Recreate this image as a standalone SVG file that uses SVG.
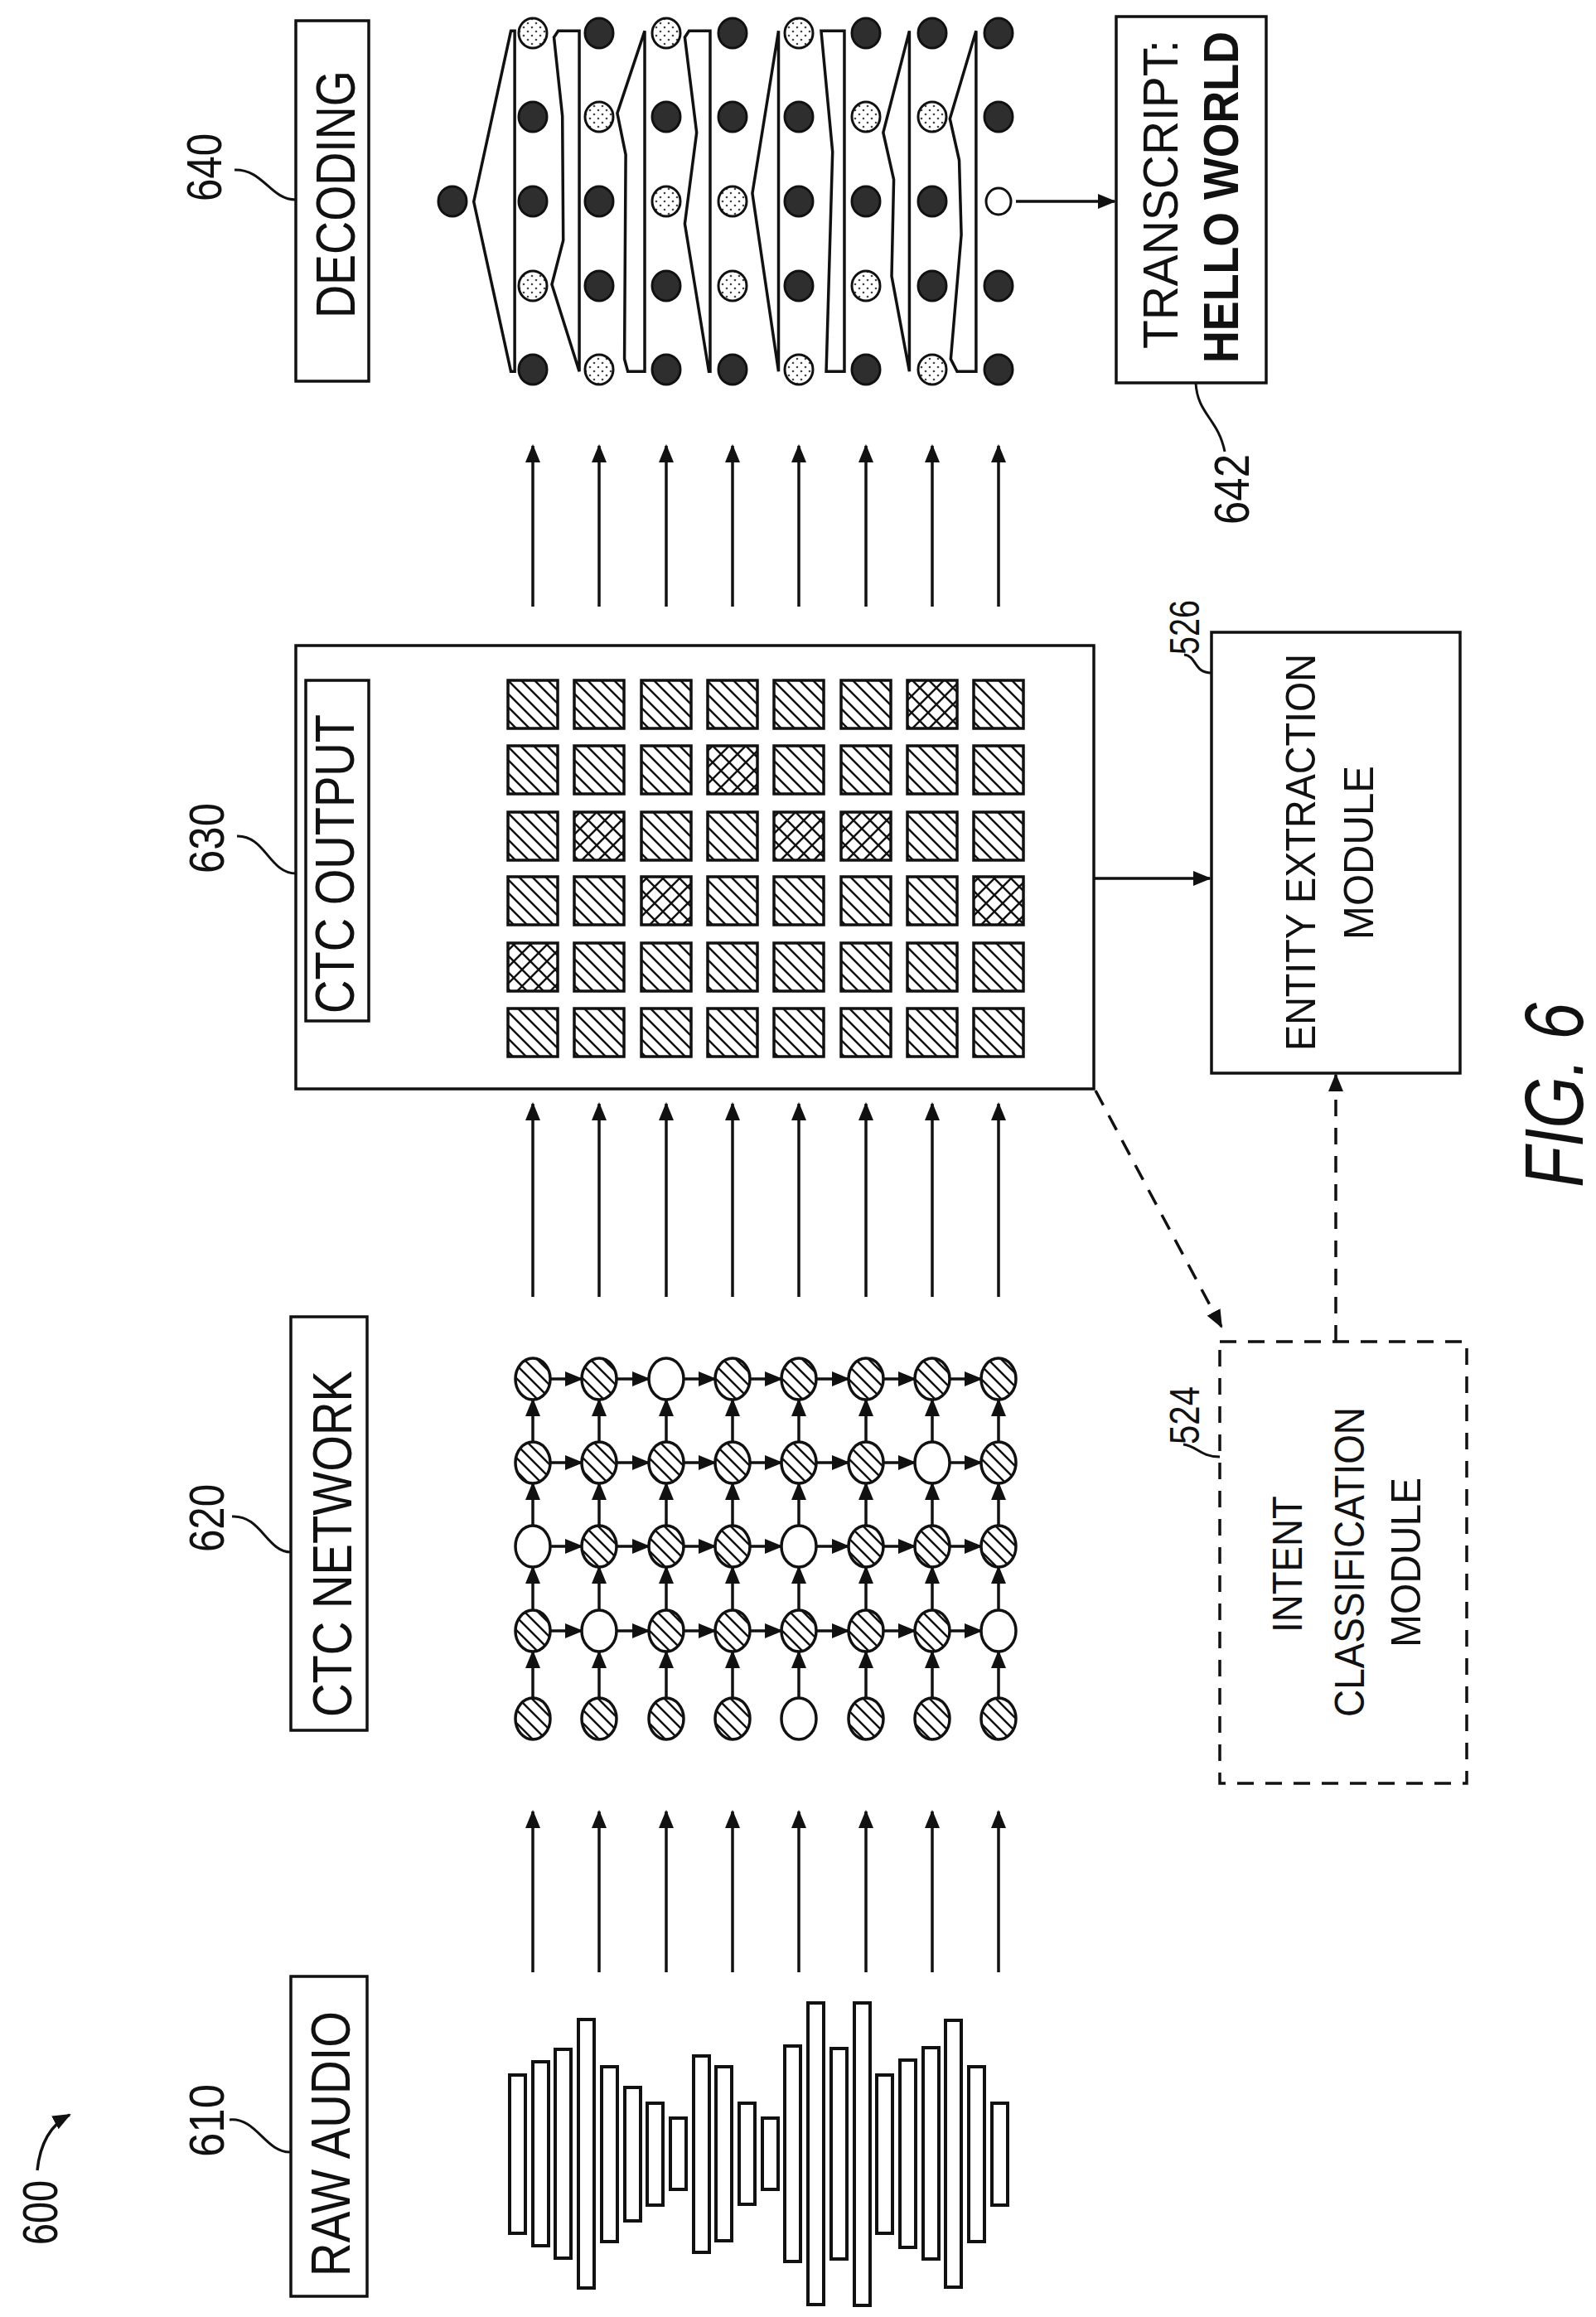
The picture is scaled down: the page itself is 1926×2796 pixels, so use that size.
<svg xmlns="http://www.w3.org/2000/svg" width="1926" height="2796" viewBox="0 0 1926 2796">
<style>
.ln{fill:none;stroke:#111;stroke-width:3.5}
.bx{fill:#fff;stroke:#111;stroke-width:3.5}
.bar{fill:#fff;stroke:#111;stroke-width:4}
.lbl{font-family:"Liberation Sans",Arial,sans-serif;font-size:66px;fill:#111}
.num{font-family:"Liberation Sans",Arial,sans-serif;font-size:60px;fill:#111}
.mod{font-family:"Liberation Sans",Arial,sans-serif;font-size:50px;fill:#111}
.dk{fill:#2e2e2e;stroke:#111;stroke-width:3}
.lt{fill:url(#stip);stroke:#111;stroke-width:3}
.wh{fill:#fff;stroke:#111;stroke-width:3}
.hc{fill:url(#hatch);stroke:#111;stroke-width:3.5}
.wc{fill:#fff;stroke:#111;stroke-width:3.5}
.sq{fill:url(#hatch2);stroke:#111;stroke-width:3.5}
.sx{fill:url(#cross);stroke:#111;stroke-width:3.5}
.ar{fill:none;stroke:#111;stroke-width:3.5;marker-end:url(#ah)}
.ds{fill:none;stroke:#111;stroke-width:3.5;stroke-dasharray:20 14}
</style>
<defs>
<marker id="ah" markerUnits="userSpaceOnUse" markerWidth="22" markerHeight="18" refX="20" refY="9" orient="auto"><path d="M0,0 L22,9 L0,18 Z" fill="#111"/></marker>
<pattern id="hatch" patternUnits="userSpaceOnUse" width="16" height="16"><rect width="16" height="16" fill="#fff"/><path d="M-4,-4 L20,20 M-12,4 L4,20 M12,-4 L28,12" stroke="#111" stroke-width="2.5"/></pattern>
<pattern id="hatch2" patternUnits="userSpaceOnUse" width="16" height="16"><rect width="16" height="16" fill="#fff"/><path d="M-4,-4 L20,20 M-12,4 L4,20 M12,-4 L28,12" stroke="#111" stroke-width="2.5"/></pattern>
<pattern id="cross" patternUnits="userSpaceOnUse" width="20" height="20"><rect width="20" height="20" fill="#fff"/><path d="M0,0 L20,20 M20,0 L0,20" stroke="#111" stroke-width="2.5"/></pattern>
<pattern id="stip" patternUnits="userSpaceOnUse" width="10" height="10"><rect width="10" height="10" fill="#fff"/><circle cx="2" cy="3" r="1.3" fill="#444"/><circle cx="7" cy="8" r="1.3" fill="#444"/></pattern>
</defs>
<rect width="1926" height="2796" fill="#fff"/>

<g id="fig600">
<text class="num" transform="translate(69,2709) rotate(-90)" textLength="78" lengthAdjust="spacingAndGlyphs">600</text>
<path class="ln" d="M45,2619 Q50,2570 84,2552" marker-end="url(#ah)"/>
</g>

<g id="raw-audio">
<rect class="bx" x="351" y="2385" width="92" height="386"/>
<text class="lbl" transform="translate(422,2747) rotate(-90)" textLength="320" lengthAdjust="spacingAndGlyphs">RAW AUDIO</text>
<text class="num" transform="translate(270,2603) rotate(-90)" textLength="88" lengthAdjust="spacingAndGlyphs">610</text>
<path class="ln" d="M277,2558 C310,2555 320,2598 351,2597" style="stroke-width:3"/>
<g id="waveform">
<rect class="bar" x="615" y="2504" width="19" height="191"/>
<rect class="bar" x="643" y="2488" width="19" height="222"/>
<rect class="bar" x="670" y="2473" width="19" height="252"/>
<rect class="bar" x="698" y="2437" width="19" height="324"/>
<rect class="bar" x="726" y="2494" width="19" height="211"/>
<rect class="bar" x="754" y="2519" width="19" height="161"/>
<rect class="bar" x="781" y="2538" width="19" height="123"/>
<rect class="bar" x="809" y="2556" width="19" height="86"/>
<rect class="bar" x="837" y="2481" width="19" height="237"/>
<rect class="bar" x="864" y="2494" width="19" height="210"/>
<rect class="bar" x="892" y="2538" width="19" height="122"/>
<rect class="bar" x="920" y="2556" width="19" height="86"/>
<rect class="bar" x="947" y="2469" width="19" height="260"/>
<rect class="bar" x="975" y="2417" width="19" height="364"/>
<rect class="bar" x="1003" y="2472" width="19" height="254"/>
<rect class="bar" x="1031" y="2417" width="19" height="365"/>
<rect class="bar" x="1058" y="2504" width="19" height="191"/>
<rect class="bar" x="1086" y="2486" width="19" height="226"/>
<rect class="bar" x="1114" y="2471" width="19" height="255"/>
<rect class="bar" x="1141" y="2438" width="19" height="322"/>
<rect class="bar" x="1169" y="2494" width="19" height="211"/>
<rect class="bar" x="1197" y="2538" width="19" height="123"/>
</g>
</g>

<g id="ctc-network">
<rect class="bx" x="351" y="1589" width="92" height="499"/>
<text class="lbl" transform="translate(424,2072) rotate(-90)" textLength="418" lengthAdjust="spacingAndGlyphs">CTC NETWORK</text>
<text class="num" transform="translate(270,1873) rotate(-90)" textLength="82" lengthAdjust="spacingAndGlyphs">620</text>
<path class="ln" d="M280,1830 C315,1828 322,1873 351,1873" style="stroke-width:3"/>
<g id="net-edges">
<line class="ar" x1="643" y1="2049" x2="643" y2="1993"/><line class="ar" x1="723" y1="2049" x2="723" y2="1993"/><line class="ar" x1="804" y1="2049" x2="804" y2="1993"/><line class="ar" x1="884" y1="2049" x2="884" y2="1993"/><line class="ar" x1="964" y1="2049" x2="964" y2="1993"/><line class="ar" x1="1045" y1="2049" x2="1045" y2="1993"/><line class="ar" x1="1125" y1="2049" x2="1125" y2="1993"/><line class="ar" x1="1205" y1="2049" x2="1205" y2="1993"/>
<line class="ar" x1="643" y1="1943" x2="643" y2="1891"/><line class="ar" x1="723" y1="1943" x2="723" y2="1891"/><line class="ar" x1="804" y1="1943" x2="804" y2="1891"/><line class="ar" x1="884" y1="1943" x2="884" y2="1891"/><line class="ar" x1="964" y1="1943" x2="964" y2="1891"/><line class="ar" x1="1045" y1="1943" x2="1045" y2="1891"/><line class="ar" x1="1125" y1="1943" x2="1125" y2="1891"/><line class="ar" x1="1205" y1="1943" x2="1205" y2="1891"/>
<line class="ar" x1="643" y1="1841" x2="643" y2="1790"/><line class="ar" x1="723" y1="1841" x2="723" y2="1790"/><line class="ar" x1="804" y1="1841" x2="804" y2="1790"/><line class="ar" x1="884" y1="1841" x2="884" y2="1790"/><line class="ar" x1="964" y1="1841" x2="964" y2="1790"/><line class="ar" x1="1045" y1="1841" x2="1045" y2="1790"/><line class="ar" x1="1125" y1="1841" x2="1125" y2="1790"/><line class="ar" x1="1205" y1="1841" x2="1205" y2="1790"/>
<line class="ar" x1="643" y1="1740" x2="643" y2="1689"/><line class="ar" x1="723" y1="1740" x2="723" y2="1689"/><line class="ar" x1="804" y1="1740" x2="804" y2="1689"/><line class="ar" x1="884" y1="1740" x2="884" y2="1689"/><line class="ar" x1="964" y1="1740" x2="964" y2="1689"/><line class="ar" x1="1045" y1="1740" x2="1045" y2="1689"/><line class="ar" x1="1125" y1="1740" x2="1125" y2="1689"/><line class="ar" x1="1205" y1="1740" x2="1205" y2="1689"/>
<line class="ar" x1="664" y1="1968" x2="702" y2="1968"/><line class="ar" x1="744" y1="1968" x2="783" y2="1968"/><line class="ar" x1="825" y1="1968" x2="863" y2="1968"/><line class="ar" x1="905" y1="1968" x2="943" y2="1968"/><line class="ar" x1="985" y1="1968" x2="1024" y2="1968"/><line class="ar" x1="1066" y1="1968" x2="1104" y2="1968"/><line class="ar" x1="1146" y1="1968" x2="1184" y2="1968"/>
<line class="ar" x1="664" y1="1866" x2="702" y2="1866"/><line class="ar" x1="744" y1="1866" x2="783" y2="1866"/><line class="ar" x1="825" y1="1866" x2="863" y2="1866"/><line class="ar" x1="905" y1="1866" x2="943" y2="1866"/><line class="ar" x1="985" y1="1866" x2="1024" y2="1866"/><line class="ar" x1="1066" y1="1866" x2="1104" y2="1866"/><line class="ar" x1="1146" y1="1866" x2="1184" y2="1866"/>
<line class="ar" x1="664" y1="1765" x2="702" y2="1765"/><line class="ar" x1="744" y1="1765" x2="783" y2="1765"/><line class="ar" x1="825" y1="1765" x2="863" y2="1765"/><line class="ar" x1="905" y1="1765" x2="943" y2="1765"/><line class="ar" x1="985" y1="1765" x2="1024" y2="1765"/><line class="ar" x1="1066" y1="1765" x2="1104" y2="1765"/><line class="ar" x1="1146" y1="1765" x2="1184" y2="1765"/>
<line class="ar" x1="664" y1="1664" x2="702" y2="1664"/><line class="ar" x1="744" y1="1664" x2="783" y2="1664"/><line class="ar" x1="825" y1="1664" x2="863" y2="1664"/><line class="ar" x1="905" y1="1664" x2="943" y2="1664"/><line class="ar" x1="985" y1="1664" x2="1024" y2="1664"/><line class="ar" x1="1066" y1="1664" x2="1104" y2="1664"/><line class="ar" x1="1146" y1="1664" x2="1184" y2="1664"/>
</g>
<g id="net-nodes">
<ellipse class="hc" cx="643" cy="1664" rx="21" ry="25"/><ellipse class="hc" cx="723" cy="1664" rx="21" ry="25"/><ellipse class="wc" cx="804" cy="1664" rx="21" ry="25"/><ellipse class="hc" cx="884" cy="1664" rx="21" ry="25"/><ellipse class="hc" cx="964" cy="1664" rx="21" ry="25"/><ellipse class="hc" cx="1045" cy="1664" rx="21" ry="25"/><ellipse class="hc" cx="1125" cy="1664" rx="21" ry="25"/><ellipse class="hc" cx="1205" cy="1664" rx="21" ry="25"/>
<ellipse class="hc" cx="643" cy="1765" rx="21" ry="25"/><ellipse class="hc" cx="723" cy="1765" rx="21" ry="25"/><ellipse class="hc" cx="804" cy="1765" rx="21" ry="25"/><ellipse class="hc" cx="884" cy="1765" rx="21" ry="25"/><ellipse class="hc" cx="964" cy="1765" rx="21" ry="25"/><ellipse class="hc" cx="1045" cy="1765" rx="21" ry="25"/><ellipse class="wc" cx="1125" cy="1765" rx="21" ry="25"/><ellipse class="hc" cx="1205" cy="1765" rx="21" ry="25"/>
<ellipse class="wc" cx="643" cy="1866" rx="21" ry="25"/><ellipse class="hc" cx="723" cy="1866" rx="21" ry="25"/><ellipse class="hc" cx="804" cy="1866" rx="21" ry="25"/><ellipse class="hc" cx="884" cy="1866" rx="21" ry="25"/><ellipse class="wc" cx="964" cy="1866" rx="21" ry="25"/><ellipse class="hc" cx="1045" cy="1866" rx="21" ry="25"/><ellipse class="hc" cx="1125" cy="1866" rx="21" ry="25"/><ellipse class="hc" cx="1205" cy="1866" rx="21" ry="25"/>
<ellipse class="hc" cx="643" cy="1968" rx="21" ry="25"/><ellipse class="wc" cx="723" cy="1968" rx="21" ry="25"/><ellipse class="hc" cx="804" cy="1968" rx="21" ry="25"/><ellipse class="hc" cx="884" cy="1968" rx="21" ry="25"/><ellipse class="hc" cx="964" cy="1968" rx="21" ry="25"/><ellipse class="hc" cx="1045" cy="1968" rx="21" ry="25"/><ellipse class="hc" cx="1125" cy="1968" rx="21" ry="25"/><ellipse class="wc" cx="1205" cy="1968" rx="21" ry="25"/>
<ellipse class="hc" cx="643" cy="2074" rx="21" ry="25"/><ellipse class="hc" cx="723" cy="2074" rx="21" ry="25"/><ellipse class="hc" cx="804" cy="2074" rx="21" ry="25"/><ellipse class="hc" cx="884" cy="2074" rx="21" ry="25"/><ellipse class="wc" cx="964" cy="2074" rx="21" ry="25"/><ellipse class="hc" cx="1045" cy="2074" rx="21" ry="25"/><ellipse class="hc" cx="1125" cy="2074" rx="21" ry="25"/><ellipse class="hc" cx="1205" cy="2074" rx="21" ry="25"/>
</g>
</g>

<g id="ctc-output">
<rect class="bx" x="357" y="779" width="963" height="535"/>
<rect class="bx" x="369" y="821" width="76" height="411"/>
<text class="lbl" transform="translate(427,1223) rotate(-90)" textLength="361" lengthAdjust="spacingAndGlyphs">CTC OUTPUT</text>
<text class="num" transform="translate(270,1054) rotate(-90)" textLength="85" lengthAdjust="spacingAndGlyphs">630</text>
<path class="ln" d="M286,1009 C320,1008 325,1054 357,1054" style="stroke-width:3"/>
<g id="ctc-grid">
<rect class="sq" x="613" y="821" width="60" height="58"/><rect class="sq" x="693" y="821" width="60" height="58"/><rect class="sq" x="774" y="821" width="60" height="58"/><rect class="sq" x="854" y="821" width="60" height="58"/><rect class="sq" x="934" y="821" width="60" height="58"/><rect class="sq" x="1015" y="821" width="60" height="58"/><rect class="sx" x="1095" y="821" width="60" height="58"/><rect class="sq" x="1175" y="821" width="60" height="58"/>
<rect class="sq" x="613" y="900" width="60" height="58"/><rect class="sq" x="693" y="900" width="60" height="58"/><rect class="sq" x="774" y="900" width="60" height="58"/><rect class="sx" x="854" y="900" width="60" height="58"/><rect class="sq" x="934" y="900" width="60" height="58"/><rect class="sq" x="1015" y="900" width="60" height="58"/><rect class="sq" x="1095" y="900" width="60" height="58"/><rect class="sq" x="1175" y="900" width="60" height="58"/>
<rect class="sq" x="613" y="980" width="60" height="58"/><rect class="sx" x="693" y="980" width="60" height="58"/><rect class="sq" x="774" y="980" width="60" height="58"/><rect class="sq" x="854" y="980" width="60" height="58"/><rect class="sx" x="934" y="980" width="60" height="58"/><rect class="sx" x="1015" y="980" width="60" height="58"/><rect class="sq" x="1095" y="980" width="60" height="58"/><rect class="sq" x="1175" y="980" width="60" height="58"/>
<rect class="sq" x="613" y="1058" width="60" height="58"/><rect class="sq" x="693" y="1058" width="60" height="58"/><rect class="sx" x="774" y="1058" width="60" height="58"/><rect class="sq" x="854" y="1058" width="60" height="58"/><rect class="sq" x="934" y="1058" width="60" height="58"/><rect class="sq" x="1015" y="1058" width="60" height="58"/><rect class="sq" x="1095" y="1058" width="60" height="58"/><rect class="sx" x="1175" y="1058" width="60" height="58"/>
<rect class="sx" x="613" y="1138" width="60" height="58"/><rect class="sq" x="693" y="1138" width="60" height="58"/><rect class="sq" x="774" y="1138" width="60" height="58"/><rect class="sq" x="854" y="1138" width="60" height="58"/><rect class="sq" x="934" y="1138" width="60" height="58"/><rect class="sq" x="1015" y="1138" width="60" height="58"/><rect class="sq" x="1095" y="1138" width="60" height="58"/><rect class="sq" x="1175" y="1138" width="60" height="58"/>
<rect class="sq" x="613" y="1217" width="60" height="58"/><rect class="sq" x="693" y="1217" width="60" height="58"/><rect class="sq" x="774" y="1217" width="60" height="58"/><rect class="sq" x="854" y="1217" width="60" height="58"/><rect class="sq" x="934" y="1217" width="60" height="58"/><rect class="sq" x="1015" y="1217" width="60" height="58"/><rect class="sq" x="1095" y="1217" width="60" height="58"/><rect class="sq" x="1175" y="1217" width="60" height="58"/>
</g>
</g>

<g id="decoding">
<rect class="bx" x="357" y="25" width="88" height="435"/>
<text class="lbl" transform="translate(428,384) rotate(-90)" textLength="299" lengthAdjust="spacingAndGlyphs">DECODING</text>
<text class="num" transform="translate(267,243) rotate(-90)" textLength="82" lengthAdjust="spacingAndGlyphs">640</text>
<path class="ln" d="M283,205 C318,204 326,241 357,241" style="stroke-width:3"/>
<g id="beam-paths" transform="translate(500.4,0) scale(0.5094,0.3333)">
<path class="ln" vector-effect="non-scaling-stroke" d="M140,730 L228,112 L237,112 L237,1345 L228,1345 Z"/>
<path class="ln" vector-effect="non-scaling-stroke" d="M390,112 L340,112 L330,135 L350,420 L352,870 L325,1030 L390,1345 Z"/>
<path class="ln" vector-effect="non-scaling-stroke" d="M545,112 L480,410 L500,560 L497,1300 L505,1345 L545,1345 Z"/>
<path class="ln" vector-effect="non-scaling-stroke" d="M700,112 L650,112 L640,135 L668,480 L640,810 L697,1345 L700,1345 Z"/>
<path class="ln" vector-effect="non-scaling-stroke" d="M862,112 L800,700 L862,1345 Z"/>
<path class="ln" vector-effect="non-scaling-stroke" d="M1018,112 L963,112 L990,550 L975,1345 L1018,1345 Z"/>
<path class="ln" vector-effect="non-scaling-stroke" d="M1172,112 L1110,480 L1135,650 L1130,1000 L1172,1345 Z"/>
<path class="ln" vector-effect="non-scaling-stroke" d="M1330,112 L1268,430 L1290,580 L1295,850 L1270,1300 L1285,1345 L1330,1345 Z"/>
</g>
<g id="beam-dots">
<ellipse class="dk" cx="546" cy="243" rx="17" ry="18"/>
<ellipse class="lt" cx="643" cy="40" rx="17" ry="18"/><ellipse class="dk" cx="643" cy="141" rx="17" ry="18"/><ellipse class="dk" cx="643" cy="243" rx="17" ry="18"/><ellipse class="lt" cx="643" cy="345" rx="17" ry="18"/><ellipse class="dk" cx="643" cy="446" rx="17" ry="18"/>
<ellipse class="dk" cx="723" cy="40" rx="17" ry="18"/><ellipse class="lt" cx="723" cy="141" rx="17" ry="18"/><ellipse class="dk" cx="723" cy="243" rx="17" ry="18"/><ellipse class="dk" cx="723" cy="345" rx="17" ry="18"/><ellipse class="lt" cx="723" cy="446" rx="17" ry="18"/>
<ellipse class="lt" cx="804" cy="40" rx="17" ry="18"/><ellipse class="dk" cx="804" cy="141" rx="17" ry="18"/><ellipse class="lt" cx="804" cy="243" rx="17" ry="18"/><ellipse class="dk" cx="804" cy="345" rx="17" ry="18"/><ellipse class="dk" cx="804" cy="446" rx="17" ry="18"/>
<ellipse class="dk" cx="884" cy="40" rx="17" ry="18"/><ellipse class="dk" cx="884" cy="141" rx="17" ry="18"/><ellipse class="lt" cx="884" cy="243" rx="17" ry="18"/><ellipse class="lt" cx="884" cy="345" rx="17" ry="18"/><ellipse class="dk" cx="884" cy="446" rx="17" ry="18"/>
<ellipse class="lt" cx="964" cy="40" rx="17" ry="18"/><ellipse class="dk" cx="964" cy="141" rx="17" ry="18"/><ellipse class="dk" cx="964" cy="243" rx="17" ry="18"/><ellipse class="dk" cx="964" cy="345" rx="17" ry="18"/><ellipse class="lt" cx="964" cy="446" rx="17" ry="18"/>
<ellipse class="dk" cx="1045" cy="40" rx="17" ry="18"/><ellipse class="lt" cx="1045" cy="141" rx="17" ry="18"/><ellipse class="dk" cx="1045" cy="243" rx="17" ry="18"/><ellipse class="lt" cx="1045" cy="345" rx="17" ry="18"/><ellipse class="dk" cx="1045" cy="446" rx="17" ry="18"/>
<ellipse class="dk" cx="1125" cy="40" rx="17" ry="18"/><ellipse class="lt" cx="1125" cy="141" rx="17" ry="18"/><ellipse class="dk" cx="1125" cy="243" rx="17" ry="18"/><ellipse class="dk" cx="1125" cy="345" rx="17" ry="18"/><ellipse class="lt" cx="1125" cy="446" rx="17" ry="18"/>
<ellipse class="dk" cx="1205" cy="40" rx="17" ry="18"/><ellipse class="dk" cx="1205" cy="141" rx="17" ry="18"/><ellipse class="wh" cx="1205" cy="243" rx="15" ry="16"/><ellipse class="dk" cx="1205" cy="345" rx="17" ry="18"/><ellipse class="dk" cx="1205" cy="446" rx="17" ry="18"/>
</g>
</g>

<g id="transcript">
<rect class="bx" x="1347" y="20" width="181" height="442"/>
<text class="lbl" style="font-size:60px" transform="translate(1421,421) rotate(-90)" textLength="373" lengthAdjust="spacingAndGlyphs">TRANSCRIPT:</text>
<text class="lbl" style="font-size:60px;font-weight:bold" transform="translate(1494,438) rotate(-90)" textLength="400" lengthAdjust="spacingAndGlyphs">HELLO WORLD</text>
<text class="num" transform="translate(1507,633) rotate(-90)" textLength="85" lengthAdjust="spacingAndGlyphs">642</text>
<path class="ln" d="M1443,462 C1445,500 1470,505 1478,545" style="stroke-width:3"/>
</g>

<g id="entity-extraction">
<rect class="bx" x="1462" y="763" width="300" height="532"/>
<text class="mod" transform="translate(1587,1268) rotate(-90)" textLength="479" lengthAdjust="spacingAndGlyphs">ENTITY EXTRACTION</text>
<text class="mod" transform="translate(1657,1134) rotate(-90)" textLength="210" lengthAdjust="spacingAndGlyphs">MODULE</text>
<text class="num" style="font-size:50px" transform="translate(1447,790) rotate(-90)" textLength="66" lengthAdjust="spacingAndGlyphs">526</text>
<path class="ln" d="M1429,790 C1445,792 1440,812 1462,812" style="stroke-width:3"/>
</g>

<g id="intent-classification">
<rect class="bx" x="1472" y="1619" width="298" height="533" style="stroke-dasharray:20 14"/>
<text class="mod" transform="translate(1571,1970) rotate(-90)" textLength="165" lengthAdjust="spacingAndGlyphs">INTENT</text>
<text class="mod" transform="translate(1646,2072) rotate(-90)" textLength="374" lengthAdjust="spacingAndGlyphs">CLASSIFICATION</text>
<text class="mod" transform="translate(1714,1988) rotate(-90)" textLength="205" lengthAdjust="spacingAndGlyphs">MODULE</text>
<text class="num" style="font-size:50px" transform="translate(1447,1743) rotate(-90)" textLength="70" lengthAdjust="spacingAndGlyphs">524</text>
<path class="ln" d="M1428,1743 C1445,1745 1448,1758 1472,1758" style="stroke-width:3"/>
</g>

<g id="connectors">
<line class="ar" x1="643" y1="2380" x2="643" y2="2186"/><line class="ar" x1="723" y1="2380" x2="723" y2="2186"/><line class="ar" x1="804" y1="2380" x2="804" y2="2186"/><line class="ar" x1="884" y1="2380" x2="884" y2="2186"/><line class="ar" x1="964" y1="2380" x2="964" y2="2186"/><line class="ar" x1="1045" y1="2380" x2="1045" y2="2186"/><line class="ar" x1="1125" y1="2380" x2="1125" y2="2186"/><line class="ar" x1="1205" y1="2380" x2="1205" y2="2186"/>
<line class="ar" x1="643" y1="1565" x2="643" y2="1332"/><line class="ar" x1="723" y1="1565" x2="723" y2="1332"/><line class="ar" x1="804" y1="1565" x2="804" y2="1332"/><line class="ar" x1="884" y1="1565" x2="884" y2="1332"/><line class="ar" x1="964" y1="1565" x2="964" y2="1332"/><line class="ar" x1="1045" y1="1565" x2="1045" y2="1332"/><line class="ar" x1="1125" y1="1565" x2="1125" y2="1332"/><line class="ar" x1="1205" y1="1565" x2="1205" y2="1332"/>
<line class="ar" x1="643" y1="732" x2="643" y2="538"/><line class="ar" x1="723" y1="732" x2="723" y2="538"/><line class="ar" x1="804" y1="732" x2="804" y2="538"/><line class="ar" x1="884" y1="732" x2="884" y2="538"/><line class="ar" x1="964" y1="732" x2="964" y2="538"/><line class="ar" x1="1045" y1="732" x2="1045" y2="538"/><line class="ar" x1="1125" y1="732" x2="1125" y2="538"/><line class="ar" x1="1205" y1="732" x2="1205" y2="538"/>
<line class="ar" x1="1226" y1="243" x2="1345" y2="243"/>
<line class="ar" x1="1320" y1="1060" x2="1460" y2="1060"/>
<path class="ds" d="M1322,1316L1474,1601" marker-end="url(#ah)"/>
<path class="ds" d="M1612,1619V1297" marker-end="url(#ah)"/>
</g>

<g id="caption">
<text style="font-family:'Liberation Sans',Arial,sans-serif;font-size:100px;font-style:italic;fill:#111" transform="translate(1910,1433) rotate(-90)" textLength="223" lengthAdjust="spacingAndGlyphs">FIG. 6</text>
</g>
</svg>
